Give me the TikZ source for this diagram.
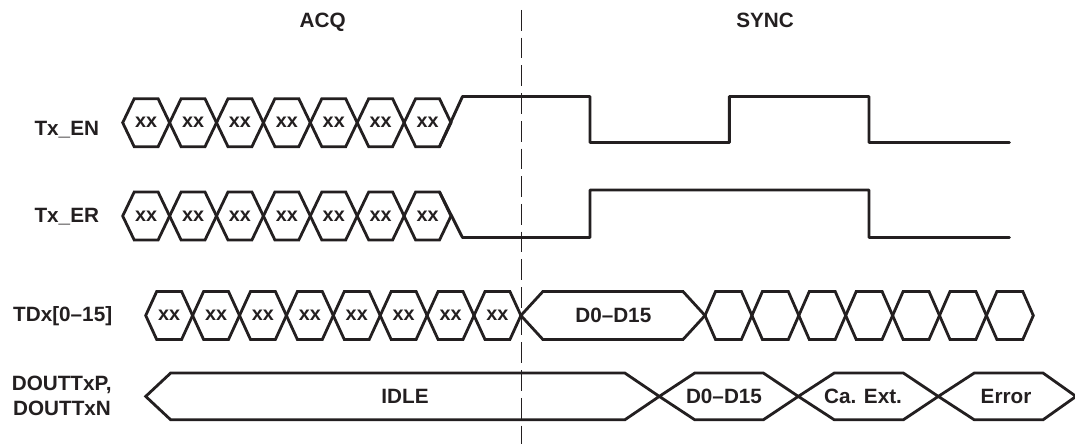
\documentclass[tikz,border=0pt]{standalone}
\usepackage{fontspec}
\setmainfont{Liberation Sans}
\definecolor{ink}{RGB}{35,31,32}
\newcommand{\hexseg}[6]{\draw[hexline] (#1,#3) -- ({#1+#5},{#3-#4}) -- ({#2-#6},{#3-#4}) -- (#2,#3) -- ({#2-#6},{#3+#4}) -- ({#1+#5},{#3+#4}) -- cycle;}
\begin{document}
\begin{tikzpicture}[x=1pt,y=-1pt,
  hexline/.style={draw=ink,line width=2.8pt},
  wave/.style={draw=ink,line width=2.9pt,line join=round,line cap=round},
  lbl/.style={font=\fontsize{20.7}{24}\selectfont\bfseries,text=ink,inner sep=0pt,anchor=base},
  intxt/.style={font=\fontsize{20.7}{24}\selectfont\bfseries,text=ink,inner sep=0pt},
  xxtxt/.style={font=\fontsize{19.8}{24}\selectfont\bfseries,text=ink,inner sep=0pt},
  sep/.style={draw=ink,line width=1.2pt,dash pattern=on 20.7pt off 7pt}]
\useasboundingbox (0,0) rectangle (1075,444);
\fill[white] (0,0) rectangle (1075,444);

% header labels
\node[lbl] (acq) at (322.7,27.4) {ACQ};
\node[lbl] (sync) at (765,27.4) {SYNC};

% row labels
\node[lbl] (lEN) at (66.8,135) {Tx\_EN};
\node[lbl] (lER) at (66.8,222.3) {Tx\_ER};
\node[lbl] (lTD) at (62.7,321.7) {TDx[0–15]};
\node[lbl] (lDP) at (61.7,390.7) {DOUTTxP,};
\node[lbl] (lDN) at (62,415) {DOUTTxN};

% Tx_EN and Tx_ER unknown states
\foreach \i in {0,...,6}{
  \pgfmathsetmacro{\xa}{122.7+46.9*\i}
  \pgfmathsetmacro{\xb}{\xa+46.9}
  \pgfmathsetmacro{\xc}{\xa+23.45}
  \hexseg{\xa}{\xb}{122.7}{24}{11.5}{11.5}
  \node[xxtxt] (en\i) at (\xc,122.7) {xx};
  \hexseg{\xa}{\xb}{216}{24}{11.5}{11.5}
  \node[xxtxt] (er\i) at (\xc,216) {xx};
}

% Tx_EN waveform
\coordinate (enA) at (439.5,146.7);
\coordinate (enB) at (462.5,96.5);
\draw[wave] (enA) -- (enB) -- (590,96.5) -- (590,142.5) -- (729.3,142.5) -- (729.3,96.5)
  -- (869,96.5) -- (869,142.5) -- (1009.3,142.5);

% Tx_ER waveform
\coordinate (erA) at (439.5,192);
\coordinate (erB) at (462.5,237.5);
\draw[wave] (erA) -- (erB) -- (590,237.5) -- (590,190) -- (869,190) -- (869,237.5) -- (1009.3,237.5);

% TDx[0-15]
\foreach \i in {0,...,7}{
  \pgfmathsetmacro{\xa}{145.7+46.9*\i}
  \pgfmathsetmacro{\xb}{\xa+46.9}
  \pgfmathsetmacro{\xc}{\xa+23.45}
  \hexseg{\xa}{\xb}{315.5}{24}{11}{11}
  \node[xxtxt] (td\i) at (\xc,315.5) {xx};
}
\hexseg{520.9}{705}{315.5}{24}{22}{22}
\node[intxt] (tdD) at (613.3,315.5) {D0–D15};
\foreach \i in {0,...,6}{
  \pgfmathsetmacro{\xa}{705+46.9*\i}
  \pgfmathsetmacro{\xb}{\xa+46.9}
  \hexseg{\xa}{\xb}{315.5}{24}{10.5}{10.5}
}

% DOUTTxP / DOUTTxN
\hexseg{145.7}{659.3}{396.4}{23.4}{25}{34.5}
\node[intxt] (idle) at (405,396.4) {IDLE};
\hexseg{659.3}{798.3}{396.4}{23.4}{35.5}{35}
\node[intxt] (doD) at (724,396.4) {D0–D15};
\hexseg{798.3}{938.3}{396.4}{23.4}{36}{35}
\node[intxt] (doC) at (863,396.4) {Ca. Ext.};
\hexseg{938.3}{1076}{396.4}{23.4}{36}{33}
\node[intxt] (doE) at (1006,396.4) {Error};

% phase separator
\coordinate (sepT) at (521.5,10);
\coordinate (sepB) at (521.5,444);
\draw[sep] (sepT) -- (sepB);
\end{tikzpicture}
\end{document}
